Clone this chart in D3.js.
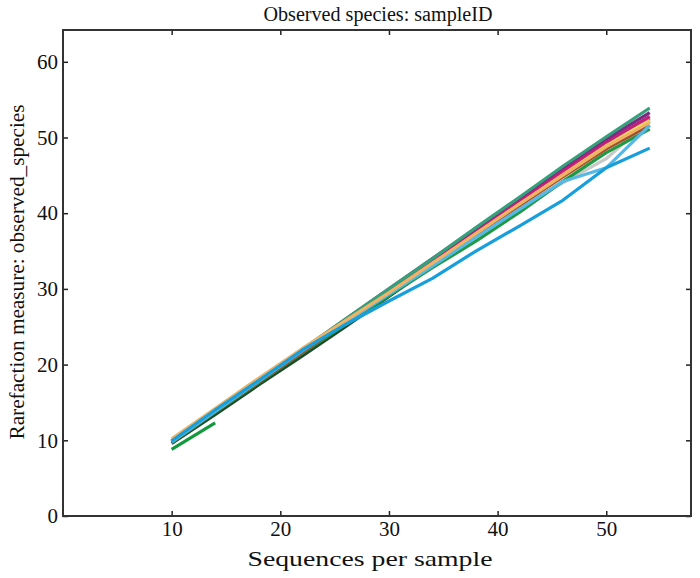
<!DOCTYPE html>
<html>
<head>
<meta charset="utf-8">
<script src="https://cdn.jsdelivr.net/npm/d3@7"></script>
<style>
  body { margin: 0; background: #fff; }
  text { font-family: "Liberation Serif", "DejaVu Serif", serif; fill: #111; }
</style>
</head>
<body>
<svg id="chart" width="700" height="578"></svg>
<script>
// sequences per sample (rarefaction depths)
let depths = [10, 14, 18, 22, 26, 30, 34, 38, 42, 46, 50, 54];
let xTicks = [10, 20, 30, 40, 50];
let yTicks = [0, 10, 20, 30, 40, 50, 60];

// one array per sample, drawn bottom to top
let lavender  = [9.6, 13.6, 17.6, 21.6, 25.5, 29.4, 33.3, 37.2, 41.1, 45.0, 48.9, 52.6];
let darkGreen = [9.6, 13.4, 17.3, 21.1, 25.0, 29.0, 33.0, 37.0, 41.0, 45.0, 48.8, 52.2];
let grey      = [9.8, 13.8, 17.8, 21.7, 25.6, 29.4, 33.2, 37.0, 40.8, 44.0, 47.2, 52.3];
let green     = [9.7, 13.7, 17.6, 21.5, 25.3, 29.1, 32.8, 36.3, 40.1, 44.2, 48.0, 51.1];
let brown     = [9.8, 13.8, 17.7, 21.6, 25.5, 29.4, 33.3, 37.1, 41.0, 44.8, 48.5, 51.6];
let pink      = [9.9, 13.9, 17.9, 21.8, 25.7, 29.6, 33.6, 37.5, 41.5, 45.3, 49.0, 52.5];
let yellow    = [10.0, 14.0, 18.0, 22.0, 25.9, 29.7, 33.6, 37.6, 41.5, 45.5, 49.2, 52.2];
let magenta   = [9.9, 14.0, 18.0, 22.0, 25.9, 29.8, 33.8, 37.8, 41.7, 45.6, 49.4, 52.8];
let purple    = [9.8, 13.9, 17.9, 21.9, 26.0, 30.0, 34.0, 38.0, 42.0, 46.0, 49.8, 53.3];
let teal      = [9.9, 14.0, 18.0, 22.0, 26.0, 30.0, 34.0, 38.1, 42.1, 46.2, 50.1, 53.9];
let lightBlue = [9.8, 13.8, 17.8, 21.8, 25.6, 29.3, 33.0, 36.8, 40.5, 44.2, 46.0, 51.6];
let orange    = [10.2, 14.2, 18.2, 22.1, 25.8, 29.5, 33.4, 37.3, 41.2, 45.0, 48.8, 52.0];
let blue      = [9.9, 14.0, 17.9, 21.9, 25.3, 28.4, 31.4, 35.0, 38.3, 41.7, 46.0, 48.6];
let shortGreen = [8.8, 12.3];

let series = [
    {values: lavender,  color: "#a092cc"},
    {values: darkGreen, color: "#1f4a2a"},
    {values: grey,      color: "#c9c9c9"},
    {values: green,     color: "#1e9a44"},
    {values: brown,     color: "#a24e2c"},
    {values: pink,      color: "#e0609c"},
    {values: yellow,    color: "#f3e35e"},
    {values: magenta,   color: "#c41f79"},
    {values: purple,    color: "#7a2c82"},
    {values: teal,      color: "#35a07c"},
    {values: lightBlue, color: "#56b8e6"},
    {values: orange,    color: "#f0b264"},
    {values: blue,      color: "#179fdc"},
    {values: shortGreen, color: "#119a3c"}
];

let svg = d3.select("#chart");
let plotLeft = 63, plotRight = 691, plotTop = 30, plotBottom = 516;

let x = d3.scaleLinear().domain([0, 57.8]).range([plotLeft, plotRight]);
let y = d3.scaleLinear().domain([0, 64.2]).range([plotBottom, plotTop]);

let line = d3.line()
    .x((d, i) => x(depths[i]))
    .y(d => y(d));

let plot = svg.append("g");
series.forEach(s => {
    plot.append("path")
        .datum(s.values)
        .attr("fill", "none")
        .attr("stroke", s.color)
        .attr("stroke-width", 3.2)
        .attr("stroke-linejoin", "round")
        .attr("d", line);
});

// inward ticks on all four sides, labels only bottom and left
let tickLen = 5;
svg.append("g")
    .attr("transform", "translate(0," + plotBottom + ")")
    .call(d3.axisBottom(x).tickValues(xTicks).tickSizeInner(-tickLen).tickSizeOuter(0).tickPadding(5))
    .call(g => g.select(".domain").remove());
svg.append("g")
    .attr("transform", "translate(0," + plotTop + ")")
    .call(d3.axisTop(x).tickValues(xTicks).tickSizeInner(-tickLen).tickSizeOuter(0).tickFormat(""))
    .call(g => g.select(".domain").remove());
svg.append("g")
    .attr("transform", "translate(" + plotLeft + ",0)")
    .call(d3.axisLeft(y).tickValues(yTicks).tickSizeInner(-tickLen).tickSizeOuter(0).tickPadding(5))
    .call(g => g.select(".domain").remove());
svg.append("g")
    .attr("transform", "translate(" + plotRight + ",0)")
    .call(d3.axisRight(y).tickValues(yTicks).tickSizeInner(-tickLen).tickSizeOuter(0).tickFormat(""))
    .call(g => g.select(".domain").remove());

svg.selectAll(".tick line").attr("stroke", "#222").attr("stroke-width", 1.5);
svg.selectAll(".tick text")
    .style("font-family", "'Liberation Serif', serif")
    .style("font-size", "21px")
    .attr("fill", "#111");

svg.append("rect")
    .attr("x", plotLeft).attr("y", plotTop)
    .attr("width", plotRight - plotLeft).attr("height", plotBottom - plotTop)
    .attr("fill", "none")
    .attr("stroke", "#333")
    .attr("stroke-width", 2);

svg.append("text")
    .attr("x", 378)
    .attr("y", 21)
    .attr("text-anchor", "middle")
    .attr("textLength", 229)
    .attr("lengthAdjust", "spacingAndGlyphs")
    .style("font-size", "20px")
    .text("Observed species: sampleID");

svg.append("text")
    .attr("x", 370)
    .attr("y", 566)
    .attr("text-anchor", "middle")
    .attr("textLength", 245)
    .attr("lengthAdjust", "spacingAndGlyphs")
    .style("font-size", "21px")
    .text("Sequences per sample");

svg.append("text")
    .attr("transform", "translate(24,272) rotate(-90)")
    .attr("text-anchor", "middle")
    .attr("textLength", 335)
    .attr("lengthAdjust", "spacingAndGlyphs")
    .style("font-size", "21px")
    .text("Rarefaction measure: observed_species");
</script>
</body>
</html>
